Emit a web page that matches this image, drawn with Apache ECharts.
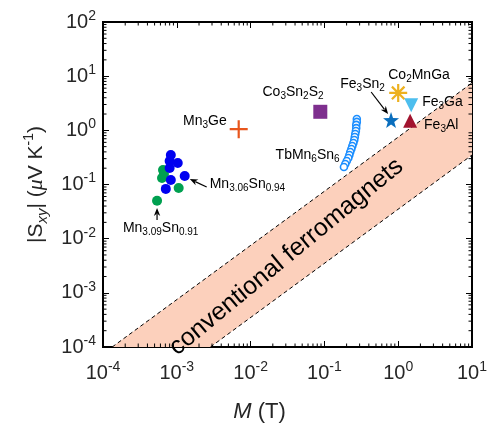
<!DOCTYPE html>
<html><head><meta charset="utf-8">
<script src="https://cdn.jsdelivr.net/npm/echarts@6/dist/echarts.min.js"></script>
<style>html,body{margin:0;padding:0;background:#fff}#c{width:491px;height:445px}</style>
</head><body><div id="c"></div>
<script>
// ---------- data ----------
const xTickExponents = [-4, -3, -2, -1, 0, 1];
const yTickExponents = [-4, -3, -2, -1, 0, 1, 2];

const mn306M = [8.3e-4, 8.0e-4, 1.03e-3, 8.0e-4, 1.28e-3, 8.3e-4, 7.1e-4];
const mn306S = [0.351, 0.272, 0.249, 0.202, 0.144, 0.121, 0.083];
const mn309M = [6.5e-4, 6.3e-4, 6.7e-4, 1.06e-3, 5.4e-4];
const mn309S = [0.185, 0.132, 0.156, 0.086, 0.050];
const tbM = [0.275, 0.275, 0.270, 0.270, 0.267, 0.262, 0.258, 0.254, 0.247, 0.239, 0.232, 0.224, 0.218, 0.211, 0.201, 0.192, 0.184];
const tbS = [1.62, 1.43, 1.26, 1.10, 0.97, 0.857, 0.754, 0.664, 0.584, 0.514, 0.453, 0.398, 0.351, 0.308, 0.272, 0.239, 0.210];
const mn3Ge = [0.0069, 1.05];
const co3Sn2S2 = [0.088, 2.2];
const fe3Sn2 = [0.80, 1.55];
const co2MnGa = [1.0, 4.9];
const fe3Ga = [1.5, 2.9];
const fe3Al = [1.45, 1.5];

const bandUpper = [[1.333e-4, 1e-4], [10, 7.5]];
const bandLower = [[2.857e-3, 1e-4], [10, 0.35]];
const bandTextAt = [0.0305, 0.0046];
const bandTextAngle = 39.5;
const bandText = 'conventional ferromagnets';

// [text, M, S, align]
const labels = [
  ['Mn{sub|3}Ge', 4.74e-3, 1.49, 'right'],
  ['Co{sub|3}Sn{sub|2}S{sub|2}', 0.0145, 5.1, 'left'],
  ['Fe{sub|3}Sn{sub|2}', 0.164, 7.2, 'left'],
  ['Co{sub|2}MnGa', 0.733, 10.5, 'left'],
  ['Fe{sub|3}Ga', 2.11, 3.33, 'left'],
  ['Fe{sub|3}Al', 2.24, 1.26, 'left'],
  ['TbMn{sub|6}Sn{sub|6}', 0.0218, 0.351, 'left'],
  ['Mn{sub|3.06}Sn{sub|0.94}', 2.79e-3, 0.102, 'left'],
  ['Mn{sub|3.09}Sn{sub|0.91}', 1.86e-4, 0.0157, 'left']
];
// [fromM, fromS, toM, toS]
const arrows = [
  [0.43, 5.1, 0.73, 2.0],
  [2.54e-3, 0.090, 1.5e-3, 0.126],
  [5.4e-4, 0.022, 5.4e-4, 0.037]
];

// ---------- styles ----------
const FONT = "'Liberation Sans', Arial, Helvetica, sans-serif";
const TXT = '#262626';
const zip = (a, b) => a.map((v, i) => [v, b[i]]);
const starPath = 'path://M0,-10L2.35,-3.24L9.51,-3.09L3.8,1.24L5.88,8.09L0,4L-5.88,8.09L-3.8,1.24L-9.51,-3.09L-2.35,-3.24Z';
const plusPath = 'path://M0,-10L0,10M-10,0L10,0';
const asteriskPath = 'path://M0,-10L0,10M-10,0L10,0M-7,-7L7,7M-7,7L7,-7';

const tickRich = {
  b: {fontSize: 20, fontFamily: FONT, color: TXT, lineHeight: 26},
  s: {fontSize: 14, fontFamily: FONT, color: TXT, lineHeight: 14, verticalAlign: 'top'}
};
const labRich = {
  sub: {fontSize: 10, fontFamily: FONT, fill: '#000', lineHeight: 9, verticalAlign: 'bottom'}
};
function tickFmt(list) {
  return v => {
    const e = Math.round(Math.log10(v));
    return list.indexOf(e) >= 0 ? '{b|10}{s|' + e + '}' : '';
  };
}

const chart = echarts.init(document.getElementById('c'), null, {renderer: 'canvas'});

function minorTicks(params, api) {
  const cs = params.coordSys;
  const ch = [];
  const L = 3.5;
  const st = {stroke: '#000', lineWidth: 1};
  for (let k = -4; k < 1; k++) for (let m = 2; m <= 9; m++) {
    const px = api.coord([m * Math.pow(10, k), 1])[0];
    ch.push({type: 'line', shape: {x1: px, y1: cs.y + cs.height, x2: px, y2: cs.y + cs.height - L}, style: st});
    ch.push({type: 'line', shape: {x1: px, y1: cs.y, x2: px, y2: cs.y + L}, style: st});
  }
  for (let k = -4; k < 2; k++) for (let m = 2; m <= 9; m++) {
    const py = api.coord([1, m * Math.pow(10, k)])[1];
    ch.push({type: 'line', shape: {x1: cs.x, y1: py, x2: cs.x + L, y2: py}, style: st});
    ch.push({type: 'line', shape: {x1: cs.x + cs.width, y1: py, x2: cs.x + cs.width - L, y2: py}, style: st});
  }
  return {type: 'group', children: ch};
}

function band(params, api) {
  const u0 = api.coord(bandUpper[0]), u1 = api.coord(bandUpper[1]);
  const l0 = api.coord(bandLower[0]), l1 = api.coord(bandLower[1]);
  const c = api.coord(bandTextAt);
  const dash = {stroke: '#000', lineWidth: 1, lineDash: [4, 3]};
  return {type: 'group', children: [
    {type: 'polygon', shape: {points: [u0, u1, l1, l0]}, style: {fill: '#FCD0BC'}},
    {type: 'line', shape: {x1: u0[0], y1: u0[1], x2: u1[0], y2: u1[1]}, style: dash},
    {type: 'line', shape: {x1: l0[0], y1: l0[1], x2: l1[0], y2: l1[1]}, style: dash},
    {type: 'text', x: c[0], y: c[1], rotation: bandTextAngle * Math.PI / 180,
      style: {text: bandText, fontSize: 25, fontFamily: FONT, fill: '#000', align: 'center', verticalAlign: 'middle'}}
  ]};
}

function annot(params, api) {
  const ch = [];
  labels.forEach(l => {
    const p = api.coord([l[1], l[2]]);
    ch.push({type: 'text', x: p[0], y: p[1], style: {
      text: l[0], fontSize: 14, fontFamily: FONT, fill: '#000', lineHeight: 18,
      align: l[3], verticalAlign: 'middle', rich: labRich}});
  });
  arrows.forEach(a => {
    const p0 = api.coord([a[0], a[1]]), p1 = api.coord([a[2], a[3]]);
    const dx = p1[0] - p0[0], dy = p1[1] - p0[1];
    const len = Math.hypot(dx, dy), ux = dx / len, uy = dy / len;
    const hl = 8, hw = 3.2;
    const bx = p1[0] - ux * hl, by = p1[1] - uy * hl;
    ch.push({type: 'line', shape: {x1: p0[0], y1: p0[1], x2: bx + ux * 2, y2: by + uy * 2}, style: {stroke: '#000', lineWidth: 1.2}});
    ch.push({type: 'polygon', shape: {points: [[p1[0], p1[1]], [bx - uy * hw, by + ux * hw], [bx + ux * 2.5, by + uy * 2.5], [bx + uy * hw, by - ux * hw]]}, style: {fill: '#000'}});
  });
  return {type: 'group', children: ch};
}

const tickCommon = {inside: true, length: 6, lineStyle: {color: '#000', width: 1}};
const option = {
  backgroundColor: '#fff',
  animation: false,
  grid: {left: 103, right: 19, top: 22, bottom: 98, show: true, borderColor: '#000', borderWidth: 2, backgroundColor: 'transparent'},
  xAxis: [
    {type: 'log', logBase: 10, min: 1e-4, max: 10, position: 'bottom',
      axisLine: {show: false}, axisTick: tickCommon, splitLine: {show: false},
      axisLabel: {margin: 13, formatter: tickFmt(xTickExponents), rich: tickRich},
      name: '{it|M} (T)', nameLocation: 'middle', nameGap: 54,
      nameTextStyle: {fontSize: 22, fontFamily: FONT, color: TXT, padding: [0, 56, 0, 0],
        rich: {it: {fontSize: 22, fontFamily: FONT, fontStyle: 'italic', color: TXT}}}},
    {type: 'log', logBase: 10, min: 1e-4, max: 10, position: 'top',
      axisLine: {show: false}, axisTick: tickCommon, splitLine: {show: false}, axisLabel: {show: false}}
  ],
  yAxis: [
    {type: 'log', logBase: 10, min: 1e-4, max: 100, position: 'left',
      axisLine: {show: false}, axisTick: tickCommon, splitLine: {show: false},
      axisLabel: {margin: 7, formatter: tickFmt(yTickExponents), rich: tickRich},
      name: '|S{sub|xy}| ({mu|μ}V K{sup|-1})', nameLocation: 'middle', nameGap: 49,
      nameTextStyle: {fontSize: 21, fontFamily: FONT, color: TXT, lineHeight: 28,
        rich: {
          sub: {fontSize: 15, fontFamily: FONT, fontStyle: 'italic', color: TXT, lineHeight: 14, verticalAlign: 'bottom'},
          sup: {fontSize: 14, fontFamily: FONT, color: TXT, lineHeight: 14, verticalAlign: 'top'},
          mu: {fontSize: 22, fontFamily: "'Liberation Serif', serif", fontStyle: 'italic', color: TXT, lineHeight: 28}
        }}},
    {type: 'log', logBase: 10, min: 1e-4, max: 100, position: 'right',
      axisLine: {show: false}, axisTick: tickCommon, splitLine: {show: false}, axisLabel: {show: false}}
  ],
  series: [
    {type: 'custom', name: 'band', renderItem: band, data: [[1, 1]], z: 1, silent: true},
    {type: 'custom', name: 'minor', renderItem: minorTicks, data: [[1, 1]], z: 10, silent: true},
    {type: 'scatter', name: 'Mn3.09Sn0.91', data: zip(mn309M, mn309S), symbol: 'circle', symbolSize: 10, itemStyle: {color: '#00A050', opacity: 1}, z: 3},
    {type: 'scatter', name: 'Mn3.06Sn0.94', data: zip(mn306M, mn306S), symbol: 'circle', symbolSize: 10, itemStyle: {color: '#0000F0', opacity: 1}, z: 3},
    {type: 'scatter', name: 'TbMn6Sn6', data: zip(tbM, tbS), symbol: 'circle', symbolSize: 7, itemStyle: {color: '#fff', borderColor: '#1C8EFF', borderWidth: 1.6, opacity: 1}, z: 3},
    {type: 'scatter', name: 'Mn3Ge', data: [mn3Ge], symbol: plusPath, symbolSize: 18, itemStyle: {color: 'transparent', borderColor: '#E8561D', borderWidth: 2.2, opacity: 1}, z: 3},
    {type: 'scatter', name: 'Co3Sn2S2', data: [co3Sn2S2], symbol: 'rect', symbolSize: 14, itemStyle: {color: '#7E2F8E', opacity: 1}, z: 3},
    {type: 'scatter', name: 'Fe3Sn2', data: [fe3Sn2], symbol: starPath, symbolSize: 16, itemStyle: {color: '#0A6EBD', opacity: 1}, z: 3},
    {type: 'scatter', name: 'Co2MnGa', data: [co2MnGa], symbol: asteriskPath, symbolSize: 18, itemStyle: {color: 'transparent', borderColor: '#EDB120', borderWidth: 2.2, opacity: 1}, z: 3},
    {type: 'scatter', name: 'Fe3Ga', data: [fe3Ga], symbol: 'triangle', symbolRotate: 180, symbolSize: 14, itemStyle: {color: '#4DBEEE', opacity: 1}, z: 3},
    {type: 'scatter', name: 'Fe3Al', data: [fe3Al], symbol: 'triangle', symbolSize: 14, itemStyle: {color: '#A2142F', opacity: 1}, z: 3},
    {type: 'custom', name: 'annot', renderItem: annot, data: [[1, 1]], z: 5, silent: true}
  ]
};
chart.setOption(option);
</script>
</body></html>
